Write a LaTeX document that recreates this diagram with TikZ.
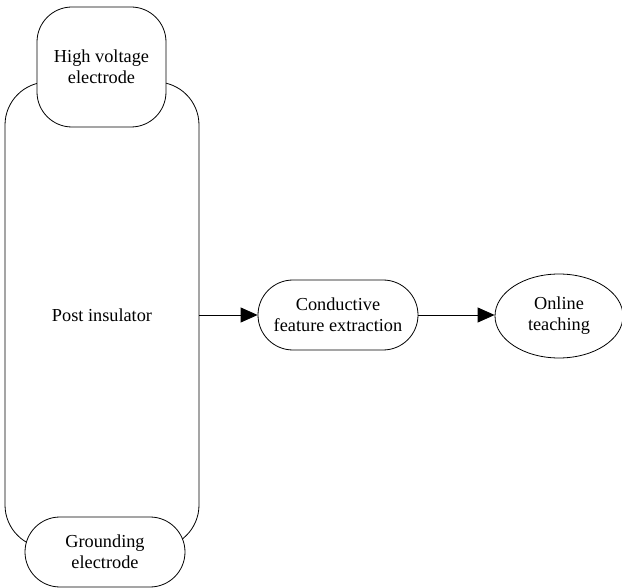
\documentclass[tikz,border=0pt]{standalone}
\usepackage{fontspec}
\setmainfont{Liberation Serif}
\usetikzlibrary{arrows.meta,shapes.geometric}
\begin{document}
\begin{tikzpicture}[x=1pt,y=-1pt,
  every node/.style={font=\fontsize{18.3}{21}\selectfont, align=center, inner sep=0pt, line width=0.8pt},
  box/.style={draw, rectangle, fill=white},
  conn/.style={draw, line width=0.8pt, -{Triangle[length=17pt,width=15pt]}}]
\useasboundingbox (0,0) rectangle (622,588);
\node[box, rounded corners=43pt, minimum width=194pt, minimum height=466pt] (pi) at (102,315) {Post insulator};
\node[box, rounded corners=35pt, minimum width=129pt, minimum height=120pt] (hv) at (101.5,67) {High voltage\\electrode};
\node[box, rounded corners=35pt, minimum width=160pt, minimum height=70pt] (ge) at (105,552) {Grounding\\electrode};
\node[box, rounded corners=35pt, minimum width=160pt, minimum height=70pt] (cf) at (338,315) {Conductive\\feature extraction};
\node[draw, ellipse, fill=white, minimum width=128pt, minimum height=84pt] (ot) at (559,316) {Online\\teaching};
\draw[conn] (pi.east) -- (cf.west);
\draw[conn] (cf.east) -- (cf.east -| ot.west);
\end{tikzpicture}
\end{document}
